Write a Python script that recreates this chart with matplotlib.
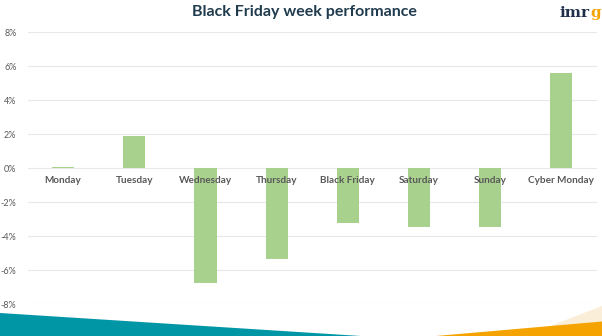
import matplotlib.pyplot as plt
from matplotlib.patches import Polygon

days = ['Monday', 'Tuesday', 'Wednesday', 'Thursday', 'Black Friday',
        'Saturday', 'Sunday', 'Cyber Monday']
change_pct = [0.05, 1.9, -6.75, -5.35, -3.25, -3.45, -3.45, 5.6]
y_ticks = [-8, -6, -4, -2, 0, 2, 4, 6, 8]

W, H = 602, 336
fig = plt.figure(figsize=(W / 100, H / 100), dpi=100)
ax = fig.add_axes([27.5 / W, (H - 304) / H, (597 - 27.5) / W, 272 / H])

x = range(len(days))
ax.bar(x, change_pct, width=0.31, color='#a9d18e', zorder=3)

ax.set_xlim(-0.5, len(days) - 0.5)
ax.set_ylim(-8, 8)
ax.set_yticks(y_ticks)
ax.set_yticklabels([f'{t}%' for t in y_ticks], fontsize=6.5, color='#595959',
                   family='Lato')
ax.tick_params(axis='y', length=0, pad=8)
ax.set_xticks([])
ax.grid(axis='y', color='#e8e8e8', linewidth=0.8, zorder=0)
for s in ax.spines.values():
    s.set_visible(False)

# category names sit just under the zero line
for i, d in enumerate(days):
    ax.text(i, -0.45, d, ha='center', va='top', fontsize=7.2, color='#595959',
            family='Lato', fontweight='bold', zorder=4)

fig.text(304 / W, 1 - 12 / H, 'Black Friday week performance', ha='center',
         va='center', fontsize=11.5, fontweight='bold', color='#1f3b4d',
         family='Lato')

# logo
fig.text(590 / W, 1 - 13 / H, 'imr', ha='right', va='center', fontsize=11,
         fontweight='bold', color='#1f2f4a', family='DejaVu Serif')
fig.text(590.5 / W, 1 - 13 / H, 'g', ha='left', va='center', fontsize=11,
         fontweight='bold', color='#f5a300', family='DejaVu Serif')

# footer bands
def band(pts, color):
    fig.patches.append(Polygon([(px / W, 1 - py / H) for px, py in pts],
                               closed=True, transform=fig.transFigure,
                               facecolor=color, edgecolor='none', zorder=0))

band([(0, 312.5), (0, 336), (361, 336)], '#0096a6')
band([(545, 328), (602, 306), (602, 322)], '#faeed8')
band([(436, 336), (602, 321.5), (602, 336)], '#f5a300')

fig.savefig('out.png', dpi=100)
